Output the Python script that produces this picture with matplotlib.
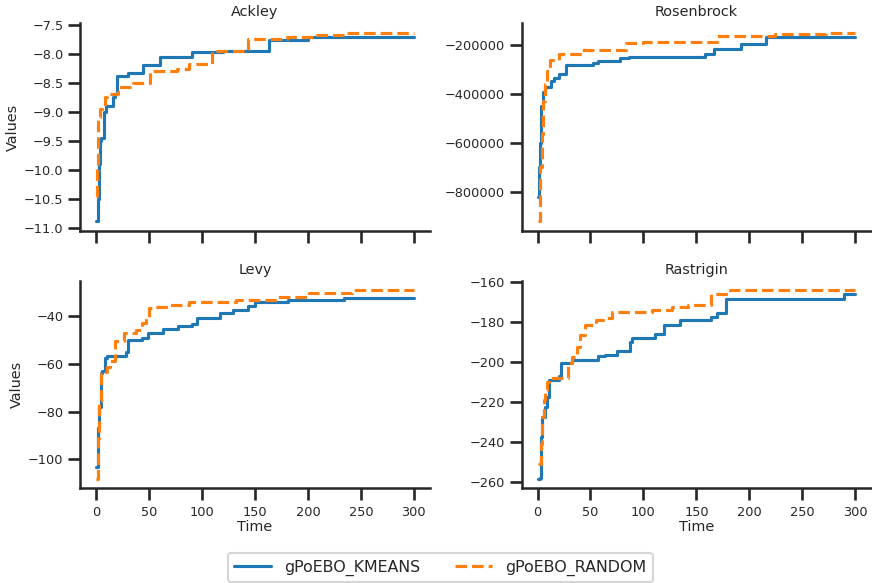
import matplotlib
matplotlib.use("Agg")
import matplotlib.pyplot as plt
from matplotlib.ticker import MultipleLocator
import seaborn as sns

# best-so-far curves (time, value at step changes)
ackley_kmeans_t = [0, 2, 3, 4, 5, 7, 9, 16, 18, 20, 30, 44, 60, 91, 120, 163, 200, 300]
ackley_kmeans_v = [-10.89, -10.5, -9.9, -9.5, -9.45, -9.0, -8.9, -8.75, -8.7, -8.39, -8.34,
                   -8.2, -8.05, -7.97, -7.95, -7.76, -7.71, -7.71]
ackley_random_t = [0, 1, 2, 4, 6, 8, 10, 21, 35, 51, 76, 88, 109, 143, 180, 205, 235, 300]
ackley_random_v = [-10.45, -10.0, -9.1, -8.95, -8.9, -8.75, -8.7, -8.58, -8.51, -8.3, -8.27,
                   -8.18, -7.95, -7.74, -7.71, -7.68, -7.64, -7.64]

rosen_kmeans_t = [0, 1, 2, 3, 5, 7, 13, 16, 20, 27, 52, 57, 78, 86, 158, 167, 192, 216, 300]
rosen_kmeans_v = [-820000, -700000, -600000, -450000, -395000, -375000, -348000, -335000,
                  -320000, -283000, -276000, -266000, -255000, -250000, -238000, -217000,
                  -198000, -170000, -170000]
rosen_random_t = [0, 2, 4, 5, 7, 9, 12, 20, 42, 84, 100, 169, 224, 272, 300]
rosen_random_v = [-920000, -700000, -565000, -430000, -360000, -306000, -265000, -238000,
                  -222000, -195000, -190000, -167000, -159000, -152000, -152000]

levy_kmeans_t = [0, 2, 3, 5, 6, 8, 10, 28, 30, 43, 49, 63, 77, 91, 95, 117, 129, 143, 150,
                 181, 234, 300]
levy_kmeans_v = [-103, -87, -78, -64, -63, -57.5, -56.5, -55, -50.2, -49.3, -47, -45.2, -44.2,
                 -43.2, -40.8, -38.9, -37.5, -35.8, -34, -33.3, -32.6, -32.6]
levy_random_t = [0, 2, 3, 5, 7, 10, 13, 18, 26, 38, 43, 47, 50, 55, 70, 88, 132, 171, 201,
                 242, 300]
levy_random_v = [-108, -91, -75.5, -64.3, -63.2, -61.5, -58.7, -50.3, -47.1, -45.9, -42.7,
                 -40.6, -36.8, -36.4, -35.3, -33.9, -33.2, -31.9, -30.4, -29.1, -29.1]

rast_kmeans_t = [0, 2, 3, 4, 7, 9, 11, 20, 22, 33, 57, 64, 75, 87, 89, 111, 119, 135, 164,
                 169, 178, 289, 300]
rast_kmeans_v = [-258.5, -258, -237.5, -227.5, -222.5, -217.5, -209, -207, -200.8, -199,
                 -197.2, -196.5, -194.8, -190, -188, -186.3, -181.7, -179, -177.5, -175.5,
                 -168.5, -166, -166]
rast_random_t = [0, 3, 4, 6, 7, 9, 11, 29, 33, 37, 40, 45, 55, 62, 70, 108, 127, 142, 164,
                 182, 300]
rast_random_v = [-251, -241, -227.5, -219, -214, -210, -208.3, -200.8, -197.5, -192.5,
                 -186.7, -181.7, -179.2, -178.3, -175, -174.2, -172.8, -171.7, -166.2,
                 -164.2, -164.2]

titles = ["Ackley", "Rosenbrock", "Levy", "Rastrigin"]
kmeans = [(ackley_kmeans_t, ackley_kmeans_v), (rosen_kmeans_t, rosen_kmeans_v),
          (levy_kmeans_t, levy_kmeans_v), (rast_kmeans_t, rast_kmeans_v)]
random_ = [(ackley_random_t, ackley_random_v), (rosen_random_t, rosen_random_v),
           (levy_random_t, levy_random_v), (rast_random_t, rast_random_v)]

sns.set_theme(style="ticks", context="talk")
plt.rcParams.update({
    "xtick.labelsize": 9.3, "ytick.labelsize": 9.3,
    "axes.labelsize": 10.4, "axes.titlesize": 10.4,
    "axes.linewidth": 1.8, "xtick.major.width": 1.9, "ytick.major.width": 1.9,
    "xtick.major.size": 8.5, "ytick.major.size": 8.5,
    "xtick.major.pad": 4.5, "ytick.major.pad": 3.5,
})

fig, axes = plt.subplots(2, 2, figsize=(8.72, 5.83), dpi=100, sharex=True)
fig.subplots_adjust(left=0.092, right=0.999, top=0.96, bottom=0.163,
                    wspace=0.263, hspace=0.241)

for i, ax in enumerate(axes.flat):
    t, v = kmeans[i]
    ax.plot(t, v, drawstyle="steps-post", color="#1f77b4", lw=2.25, label="gPoEBO_KMEANS")
    t, v = random_[i]
    ax.plot(t, v, drawstyle="steps-post", color="#ff7f0e", lw=2.25, ls="--",
            label="gPoEBO_RANDOM")
    ax.set_title(titles[i], pad=5)
    if i % 2 == 0:
        ax.set_ylabel("Values", labelpad=3)
    if i >= 2:
        ax.set_xlabel("Time", labelpad=1)
    ax.set_xticks([0, 50, 100, 150, 200, 250, 300])
    sns.despine(ax=ax)

axes[0, 0].yaxis.set_major_locator(MultipleLocator(0.5))

handles, labels = axes[0, 0].get_legend_handles_labels()
fig.legend(handles, labels, loc="lower center", ncol=2, bbox_to_anchor=(0.505, -0.012),
           fontsize=11.4, handlelength=2.3, handletextpad=0.85, columnspacing=2.2)

fig.savefig("out.png", dpi=100)
